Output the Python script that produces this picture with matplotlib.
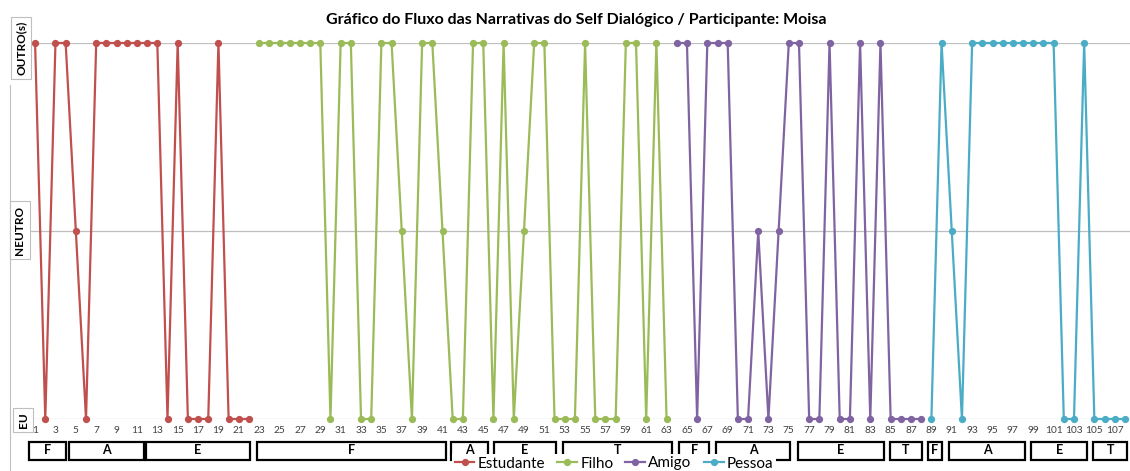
import matplotlib
matplotlib.use("Agg")
import matplotlib.pyplot as plt
from matplotlib.patches import Rectangle
from matplotlib.lines import Line2D

plt.rcParams['font.family'] = ['Lato', 'DejaVu Sans']

# 0 = EU, 1 = NEUTRO, 2 = OUTRO(s)
estudante = [2, 0, 2, 2, 1, 0, 2, 2, 2, 2, 2, 2, 2, 0, 2, 0, 0, 0, 2, 0, 0, 0]
filho = [2, 2, 2, 2, 2, 2, 2, 0, 2, 2, 0, 0, 2, 2, 1, 0, 2, 2, 1, 0, 0,
         2, 2, 0, 2, 0, 1, 2, 2, 0, 0, 0, 2, 0, 0, 0, 2, 2, 0, 2, 0]
amigo = [2, 2, 0, 2, 2, 2, 0, 0, 1, 0, 1, 2, 2, 0, 0, 2, 0, 0, 2, 0, 2, 0, 0, 0, 0]
pessoa = [0, 2, 1, 0, 2, 2, 2, 2, 2, 2, 2, 2, 2, 0, 0, 2, 0, 0, 0, 0]

series_names = ["Estudante", "Filho", "Amigo", "Pessoa"]
series_values = [estudante, filho, amigo, pessoa]
colors = ["#C0504D", "#9BBB59", "#8064A2", "#4BACC6"]

y_labels = ["EU", "NEUTRO", "OUTRO(s)"]

# segment letters under the axis and the narrative index range they cover
seg_letters = ["F", "A", "E", "F", "A", "E", "T", "F", "A", "E", "T", "F", "A", "E", "T"]
seg_start = [0.4, 4.3, 11.9, 22.8, 41.8, 46.1, 52.8, 64.2, 67.9, 75.9, 84.9, 88.7, 90.7, 98.8, 104.9]
seg_end = [4.0, 11.7, 22.1, 41.3, 45.5, 52.1, 63.5, 67.2, 75.1, 84.3, 88.1, 90.0, 98.2, 104.3, 108.2]

W, H = 1130, 471
fig = plt.figure(figsize=(W / 100, H / 100), dpi=100)
ax = fig.add_axes([30 / W, 52 / H, 1100 / W, 376 / H])

start = 1
for name, vals, c in zip(series_names, series_values, colors):
    xs = list(range(start, start + len(vals)))
    ax.plot(xs, vals, color=c, lw=1.6, marker='o', ms=4.2, label=name, clip_on=False, zorder=3)
    start += len(vals)

ax.set_xlim(0.5, 108.5)
ax.set_ylim(0, 2)
ax.set_yticks([0, 1, 2])
ax.set_yticklabels([])
ax.yaxis.grid(True, color='#BFBFBF', lw=0.9)
ax.set_xticks(range(1, 109, 2))
ax.tick_params(axis='x', length=0, pad=5, labelsize=7.3, labelcolor='#404040')
ax.tick_params(axis='y', length=0)
for s in ax.spines.values():
    s.set_visible(False)

# letter boxes below the axis
for let, a, b in zip(seg_letters, seg_start, seg_end):
    x0 = ax.transData.transform((a, 0))[0] / W
    x1 = ax.transData.transform((b, 0))[0] / W
    fig.patches.append(Rectangle((x0, 1 - 460 / H), x1 - x0, 18 / H, transform=fig.transFigure,
                                 fill=False, ec='black', lw=1.6))
    fig.text((x0 + x1) / 2, 1 - 450 / H, let, ha='center', va='center', fontsize=9, fontweight='bold')

# y category labels in boxes
box = dict(boxstyle='square,pad=0.35', fc='white', ec='#BFBFBF', lw=0.8)
fig.text(21 / W, 1 - 48 / H, y_labels[2], rotation=90, ha='center', va='center',
         fontsize=8.5, fontweight='bold', bbox=box)
fig.text(20 / W, 1 - 230 / H, y_labels[1], rotation=90, ha='center', va='center',
         fontsize=8.5, fontweight='bold', bbox=box)
fig.text(23 / W, 1 - 420 / H, y_labels[0], rotation=90, ha='center', va='center',
         fontsize=8.5, fontweight='bold', bbox=box)

# left border of the chart area
fig.lines.append(Line2D([9.5 / W, 9.5 / W], [0, 1 - 85 / H], transform=fig.transFigure,
                        color='#BFBFBF', lw=0.8))

fig.text(576 / W, 1 - 20 / H, "Gráfico do Fluxo das Narrativas do Self Dialógico / Participante: Moisa",
         ha='center', va='center', fontsize=11.5, fontweight='bold')

leg = fig.legend(loc='center', bbox_to_anchor=(614 / W, 1 - 463.5 / H), ncol=4, frameon=True,
                 fontsize=11, handlelength=1.3, handletextpad=0.2, columnspacing=0.8,
                 borderpad=0.15, borderaxespad=0, fancybox=False)
leg.get_frame().set_facecolor('white')
leg.get_frame().set_edgecolor('none')
leg.get_frame().set_alpha(1)

fig.savefig("out.png", dpi=100)
